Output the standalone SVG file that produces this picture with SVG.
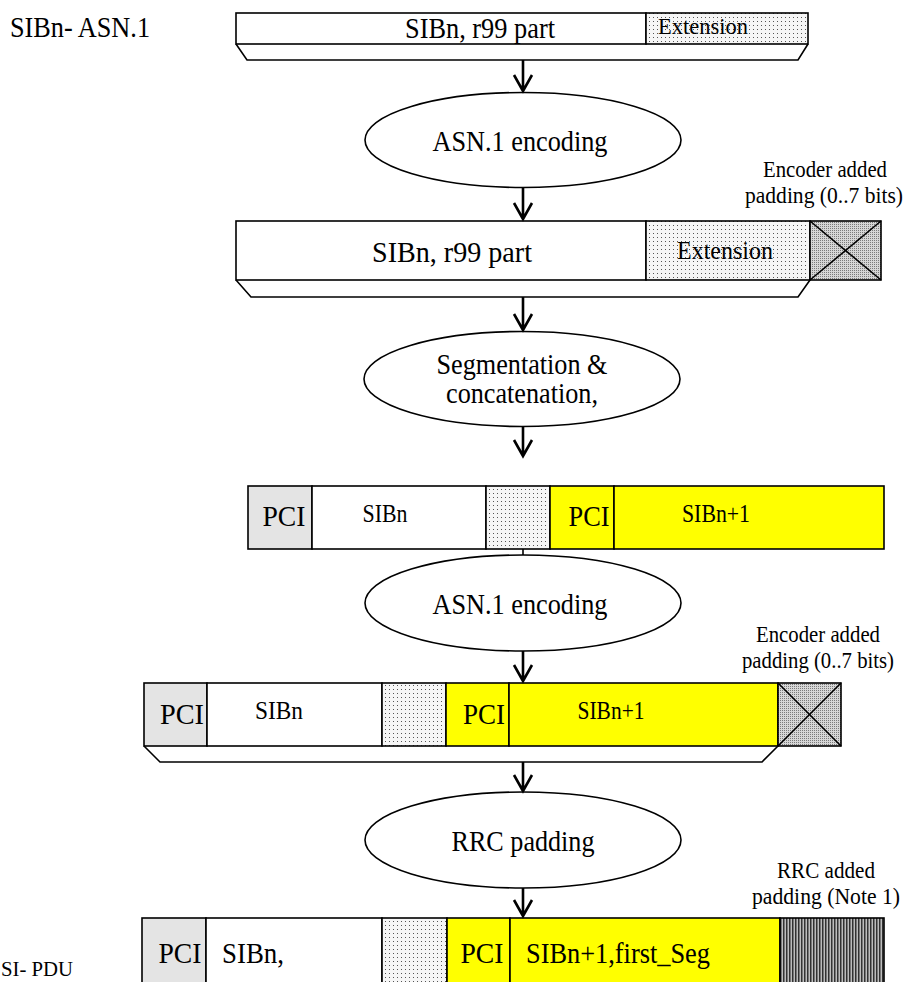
<svg xmlns="http://www.w3.org/2000/svg" width="915" height="982" viewBox="0 0 915 982">
<style>
text{font-family:"Liberation Serif","Times New Roman",serif;fill:#000}
.t29{font-size:29px}
.t30{font-size:30px}
.t25{font-size:25px}
.t24{font-size:24px}
.t23{font-size:23px}
.t20{font-size:20px}
.mid{text-anchor:middle}
.box{stroke:#000;stroke-width:1.6}
.ln{fill:none;stroke:#000;stroke-width:1.6}
.ell{fill:#fff;stroke:#000;stroke-width:1.6}
.arr{fill:none;stroke:#000;stroke-width:2.6}
.white{fill:#fff}
.yel{fill:#ffff00}
.pci{fill:#e4e4e4}
</style>
<defs>
<pattern id="dots" width="4" height="4" patternUnits="userSpaceOnUse"><rect width="4" height="4" fill="#f6f6f6"/><rect x="1" y="1" width="1" height="1" fill="#555"/></pattern>
<pattern id="hatch" width="2" height="2" patternUnits="userSpaceOnUse"><rect width="2" height="2" fill="#d6d6d6"/><rect width="1" height="1" fill="#7a7a7a"/></pattern>
<pattern id="stripes" width="3" height="3" patternUnits="userSpaceOnUse"><rect width="3" height="3" fill="#bdbdbd"/><rect width="1.5" height="3" fill="#333"/></pattern>
</defs>

<g id="label-sibn-asn1"><text class="t29" x="10" y="37" textLength="140" lengthAdjust="spacingAndGlyphs">SIBn- ASN.1</text></g>

<g id="bar1">
<rect class="box white" x="236" y="13" width="410" height="31"/>
<rect class="box" fill="url(#dots)" x="646" y="13" width="162" height="31"/>
<text class="t29 mid" x="480" y="38" textLength="150" lengthAdjust="spacingAndGlyphs">SIBn, r99 part</text>
<text class="t24" x="658" y="34" textLength="90" lengthAdjust="spacingAndGlyphs">Extension</text>
<polyline class="ln" points="236,44 247,60 798,60 808,44"/>
</g>

<g id="ellipse1">
<ellipse class="ell" cx="523" cy="140" rx="158" ry="47.5"/>
<text class="t29 mid" x="520" y="151" textLength="175" lengthAdjust="spacingAndGlyphs">ASN.1 encoding</text>
</g>

<g id="label-encoder-pad1">
<text class="t23" x="763" y="177" textLength="124" lengthAdjust="spacingAndGlyphs">Encoder added</text>
<text class="t23" x="745" y="203" textLength="158" lengthAdjust="spacingAndGlyphs">padding (0..7 bits)</text>
</g>

<g id="bar2">
<rect class="box white" x="236" y="221" width="410" height="59"/>
<rect class="box" fill="url(#dots)" x="646" y="221" width="164" height="59"/>
<rect class="box" fill="url(#hatch)" x="810" y="221" width="71" height="59"/>
<line class="ln" x1="810" y1="221" x2="881" y2="280"/>
<line class="ln" x1="881" y1="221" x2="810" y2="280"/>
<text class="t30 mid" x="452" y="262" textLength="160" lengthAdjust="spacingAndGlyphs">SIBn, r99 part</text>
<text class="t25 mid" x="725" y="259" textLength="96" lengthAdjust="spacingAndGlyphs">Extension</text>
<polyline class="ln" points="236,280 251,297 798,297 810,280"/>
</g>

<g id="ellipse2">
<ellipse class="ell" cx="522" cy="379" rx="158" ry="47.5"/>
<text class="t29 mid" x="522" y="374" textLength="171" lengthAdjust="spacingAndGlyphs">Segmentation &amp;</text>
<text class="t29 mid" x="522" y="403" textLength="152" lengthAdjust="spacingAndGlyphs">concatenation,</text>
</g>

<g id="bar3">
<rect class="box pci" x="248" y="486" width="64" height="63"/>
<rect class="box white" x="312" y="486" width="174" height="63"/>
<rect class="box" fill="url(#dots)" x="486" y="486" width="64" height="63"/>
<rect class="box yel" x="550" y="486" width="64" height="63"/>
<rect class="box yel" x="614" y="486" width="270" height="63"/>
<text class="t30 mid" x="284" y="526" textLength="43" lengthAdjust="spacingAndGlyphs">PCI</text>
<text class="t25 mid" x="385" y="522" textLength="45" lengthAdjust="spacingAndGlyphs">SIBn</text>
<text class="t30 mid" x="589" y="526" textLength="41" lengthAdjust="spacingAndGlyphs">PCI</text>
<text class="t25 mid" x="716" y="522" textLength="68" lengthAdjust="spacingAndGlyphs">SIBn+1</text>
</g>

<g id="ellipse3">
<ellipse class="ell" cx="523" cy="603" rx="158" ry="48"/>
<text class="t29 mid" x="520" y="614" textLength="175" lengthAdjust="spacingAndGlyphs">ASN.1 encoding</text>
</g>

<g id="label-encoder-pad2">
<text class="t23" x="756" y="642" textLength="124" lengthAdjust="spacingAndGlyphs">Encoder added</text>
<text class="t23" x="742" y="668" textLength="152" lengthAdjust="spacingAndGlyphs">padding (0..7 bits)</text>
</g>

<g id="bar4">
<rect class="box pci" x="144" y="683" width="63" height="63"/>
<rect class="box white" x="207" y="683" width="175" height="63"/>
<rect class="box" fill="url(#dots)" x="382" y="683" width="64" height="63"/>
<rect class="box yel" x="446" y="683" width="63" height="63"/>
<rect class="box yel" x="509" y="683" width="269" height="63"/>
<rect class="box" fill="url(#hatch)" x="778" y="683" width="63" height="63"/>
<line class="ln" x1="778" y1="683" x2="841" y2="746"/>
<line class="ln" x1="841" y1="683" x2="778" y2="746"/>
<text class="t30 mid" x="182" y="724" textLength="44" lengthAdjust="spacingAndGlyphs">PCI</text>
<text class="t25 mid" x="279" y="719" textLength="48" lengthAdjust="spacingAndGlyphs">SIBn</text>
<text class="t30 mid" x="484" y="724" textLength="42" lengthAdjust="spacingAndGlyphs">PCI</text>
<text class="t25 mid" x="611" y="719" textLength="67" lengthAdjust="spacingAndGlyphs">SIBn+1</text>
<polyline class="ln" points="144,746 160,762 762,762 778,746"/>
</g>

<g id="ellipse4">
<ellipse class="ell" cx="523" cy="840" rx="158" ry="48"/>
<text class="t29 mid" x="523" y="851" textLength="143" lengthAdjust="spacingAndGlyphs">RRC padding</text>
</g>

<g id="label-rrc-pad">
<text class="t23" x="777" y="878" textLength="98" lengthAdjust="spacingAndGlyphs">RRC added</text>
<text class="t23" x="752" y="904" textLength="148" lengthAdjust="spacingAndGlyphs">padding (Note 1)</text>
</g>

<g id="label-si-pdu"><text class="t20" x="1" y="976" textLength="72" lengthAdjust="spacingAndGlyphs">SI- PDU</text></g>

<g id="bar5">
<rect class="box pci" x="142" y="918" width="64" height="70"/>
<rect class="box white" x="206" y="918" width="176" height="70"/>
<rect class="box" fill="url(#dots)" x="382" y="918" width="65" height="70"/>
<rect class="box yel" x="447" y="918" width="63" height="70"/>
<rect class="box yel" x="510" y="918" width="270" height="70"/>
<rect class="box" fill="url(#stripes)" x="780" y="918" width="104" height="70"/>
<text class="t30 mid" x="180" y="963" textLength="43" lengthAdjust="spacingAndGlyphs">PCI</text>
<text class="t29" x="222" y="963" textLength="62" lengthAdjust="spacingAndGlyphs">SIBn,</text>
<text class="t30 mid" x="482" y="963" textLength="43" lengthAdjust="spacingAndGlyphs">PCI</text>
<text class="t29" x="526" y="963" textLength="184" lengthAdjust="spacingAndGlyphs">SIBn+1,first_Seg</text>
</g>

<g id="connectors">
<path class="arr" d="M523,60 V91 M514,75 L523,91 L532,75"/>
<path class="arr" d="M523,188 V219 M514,203 L523,219 L532,203"/>
<path class="arr" d="M523,297 V330 M514,314 L523,330 L532,314"/>
<path class="arr" d="M523,427 V456 M514,440 L523,456 L532,440"/>
<line class="ln" x1="523" y1="549" x2="523" y2="555"/>
<path class="arr" d="M523,651 V681 M514,665 L523,681 L532,665"/>
<path class="arr" d="M523,762 V791 M514,775 L523,791 L532,775"/>
<path class="arr" d="M523,888 V916 M514,900 L523,916 L532,900"/>
</g>
</svg>
